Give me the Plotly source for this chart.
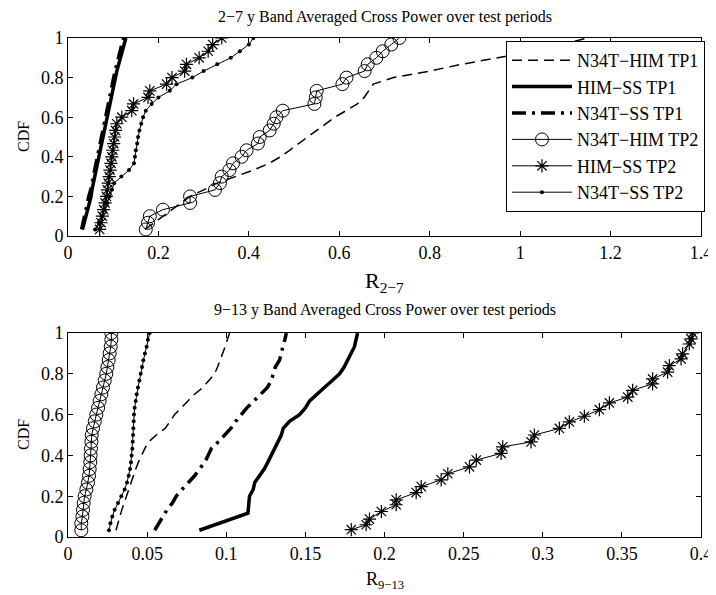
import plotly.graph_objects as go

# ---------------- data ----------------
LEVELS = [0.033, 0.067, 0.1, 0.133, 0.167, 0.2, 0.233, 0.267, 0.3, 0.333,
          0.367, 0.4, 0.433, 0.467, 0.5, 0.533, 0.567, 0.6, 0.633, 0.667,
          0.7, 0.733, 0.767, 0.8, 0.833, 0.867, 0.9, 0.933, 0.967, 1.0]

# Top panel: 2-7 y band
top_n34t_him_tp1 = [0.17, 0.19, 0.21, 0.23, 0.25, 0.27, 0.30, 0.33, 0.37, 0.41,
                    0.445, 0.47, 0.49, 0.51, 0.53, 0.55, 0.57, 0.59, 0.615, 0.64,
                    0.655, 0.665, 0.675, 0.72, 0.80, 0.87, 0.95, 1.03, 1.09, 1.15]
top_him_ss_tp1 = [0.032, 0.036, 0.040, 0.044, 0.047, 0.051, 0.053, 0.056, 0.060, 0.062,
                  0.065, 0.069, 0.071, 0.074, 0.077, 0.081, 0.083, 0.086, 0.090, 0.092,
                  0.095, 0.098, 0.101, 0.105, 0.108, 0.112, 0.116, 0.119, 0.124, 0.128]
top_n34t_ss_tp1 = [0.030, 0.033, 0.036, 0.040, 0.043, 0.046, 0.050, 0.053, 0.056, 0.059,
                   0.062, 0.065, 0.068, 0.071, 0.074, 0.077, 0.080, 0.083, 0.086, 0.089,
                   0.092, 0.095, 0.098, 0.101, 0.104, 0.108, 0.111, 0.115, 0.119, 0.123]
top_n34t_him_tp2 = [0.172, 0.177, 0.181, 0.21, 0.27, 0.27, 0.325, 0.336, 0.34, 0.357,
                    0.365, 0.384, 0.395, 0.42, 0.424, 0.446, 0.455, 0.461, 0.475, 0.545,
                    0.548, 0.55, 0.607, 0.616, 0.656, 0.663, 0.682, 0.696, 0.715, 0.733]
top_him_ss_tp2 = [0.070, 0.073, 0.076, 0.079, 0.082, 0.085, 0.087, 0.089, 0.091, 0.093,
                  0.095, 0.097, 0.099, 0.101, 0.103, 0.105, 0.108, 0.119, 0.141, 0.145,
                  0.177, 0.181, 0.218, 0.23, 0.258, 0.262, 0.29, 0.31, 0.32, 0.34]
top_n34t_ss_tp2 = [0.060, 0.068, 0.075, 0.081, 0.087, 0.092, 0.097, 0.102, 0.118, 0.135,
                   0.146, 0.148, 0.150, 0.153, 0.155, 0.158, 0.162, 0.166, 0.172, 0.185,
                   0.20, 0.225, 0.24, 0.275, 0.30, 0.33, 0.36, 0.38, 0.40, 0.41]

# Bottom panel: 9-13 y band
bot_n34t_him_tp1 = [0.0303, 0.0315, 0.0326, 0.0340, 0.0355, 0.0369, 0.0383, 0.0397, 0.0411, 0.0428,
                    0.0445, 0.0463, 0.0485, 0.0510, 0.0558, 0.0615, 0.0645, 0.0674, 0.0715, 0.0760,
                    0.0800, 0.0852, 0.0890, 0.0926, 0.0945, 0.0962, 0.0979, 0.0993, 0.1007, 0.1021]
bot_him_ss_tp1_x = [0.083, 0.1137, 0.1147, 0.117, 0.118, 0.121, 0.124, 0.1263, 0.1285, 0.1305,
                    0.133, 0.1348, 0.136, 0.140, 0.1463, 0.150, 0.1527, 0.157, 0.162, 0.167,
                    0.1716, 0.1745, 0.1768, 0.179, 0.181, 0.182, 0.183]
bot_him_ss_tp1_y = [0.033, 0.117, 0.2, 0.233, 0.267, 0.3, 0.333, 0.367, 0.4, 0.433,
                    0.467, 0.5, 0.533, 0.567, 0.6, 0.633, 0.667, 0.7, 0.733, 0.767,
                    0.8, 0.833, 0.867, 0.9, 0.933, 0.967, 1.0]
bot_n34t_ss_tp1 = [0.0548, 0.0575, 0.060, 0.0625, 0.066, 0.0684, 0.072, 0.076, 0.080, 0.083,
                   0.0865, 0.0885, 0.0905, 0.095, 0.099, 0.103, 0.106, 0.1095, 0.113, 0.1175,
                   0.122, 0.126, 0.1285, 0.1295, 0.131, 0.1337, 0.1345, 0.1358, 0.137, 0.138]
bot_n34t_him_tp2 = [0.0084, 0.0084, 0.0091, 0.0095, 0.0099, 0.0105, 0.0116, 0.0126, 0.0133, 0.0137,
                    0.0141, 0.0143, 0.0145, 0.0148, 0.0150, 0.0158, 0.0169, 0.0179, 0.0190, 0.0200,
                    0.0211, 0.0221, 0.0232, 0.0242, 0.0249, 0.0257, 0.0263, 0.0270, 0.0274, 0.0274]
bot_him_ss_tp2_x = [0.179, 0.1884, 0.1905, 0.198, 0.2074, 0.2074, 0.22, 0.2232, 0.2358, 0.24,
                    0.2537, 0.258, 0.2737, 0.2747, 0.2926, 0.2947, 0.3105, 0.3168, 0.3263, 0.3358,
                    0.3421, 0.3537, 0.3568, 0.3694, 0.3694, 0.3789, 0.380, 0.3874, 0.3884, 0.3926,
                    0.3937, 0.3947]
bot_him_ss_tp2_y = [0.036, 0.06, 0.088, 0.125, 0.158, 0.182, 0.218, 0.247, 0.28, 0.31,
                    0.344, 0.377, 0.41, 0.442, 0.466, 0.5, 0.532, 0.564, 0.592, 0.624,
                    0.657, 0.686, 0.719, 0.751, 0.775, 0.808, 0.84, 0.873, 0.898, 0.946,
                    0.971, 1.0]
bot_n34t_ss_tp2 = [0.0259, 0.0268, 0.0280, 0.0295, 0.0316, 0.0337, 0.0358, 0.0373, 0.0383, 0.0392,
                   0.0398, 0.0402, 0.0407, 0.0409, 0.0411, 0.0413, 0.0415, 0.0417, 0.0421, 0.0428,
                   0.0434, 0.0442, 0.0451, 0.0459, 0.0468, 0.0476, 0.0486, 0.0497, 0.0505, 0.0516]

NAMES = ["N34T\u2212HIM TP1", "HIM\u2212SS TP1", "N34T\u2212SS TP1",
         "N34T\u2212HIM TP2", "HIM\u2212SS TP2", "N34T\u2212SS TP2"]

TOP_TITLE = "2\u22127 y Band Averaged Cross Power over test periods"
BOT_TITLE = "9\u221213 y Band Averaged Cross Power over test periods"

# ---------------- styles ----------------
STY = [
    dict(mode="lines", line=dict(color="black", width=1.5, dash="10px,6px")),
    dict(mode="lines", line=dict(color="black", width=3.5)),
    dict(mode="lines", line=dict(color="black", width=3.5, dash="14px,6px,3px,6px")),
    dict(mode="lines+markers", line=dict(color="black", width=1),
         marker=dict(symbol="circle-open", size=13, color="black", line=dict(width=1))),
    dict(mode="lines+markers", line=dict(color="black", width=1),
         marker=dict(symbol="asterisk-open", size=11, color="black", line=dict(width=1.2, color="black"))),
    dict(mode="lines+markers", line=dict(color="black", width=1),
         marker=dict(symbol="circle", size=4, color="black")),
]

FONT = "Liberation Serif, Times New Roman, serif"

fig = go.Figure()

top_data = [(top_n34t_him_tp1, LEVELS), (top_him_ss_tp1, LEVELS), (top_n34t_ss_tp1, LEVELS),
            (top_n34t_him_tp2, LEVELS), (top_him_ss_tp2, LEVELS), (top_n34t_ss_tp2, LEVELS)]
bot_data = [(bot_n34t_him_tp1, LEVELS), (bot_him_ss_tp1_x, bot_him_ss_tp1_y), (bot_n34t_ss_tp1, LEVELS),
            (bot_n34t_him_tp2, LEVELS), (bot_him_ss_tp2_x, bot_him_ss_tp2_y), (bot_n34t_ss_tp2, LEVELS)]

for i, (x, y) in enumerate(top_data):
    fig.add_trace(go.Scatter(x=x, y=y, name=NAMES[i], xaxis="x", yaxis="y",
                             showlegend=True, **STY[i]))
for i, (x, y) in enumerate(bot_data):
    fig.add_trace(go.Scatter(x=x, y=y, name=NAMES[i], xaxis="x2", yaxis="y2",
                             showlegend=False, **STY[i]))

axis_common = dict(showline=True, linecolor="black", linewidth=1, mirror="ticks",
                   ticks="inside", ticklen=5, tickcolor="black", showgrid=False,
                   zeroline=False, automargin=False,
                   tickfont=dict(family=FONT, size=18, color="black"))

# page body has an 8px margin -> figure is offset by 8px in the screenshot
W, H = 708, 587
ML, MR, MT, MB = 60, 14, 30, 58
plot_h = H - MT - MB  # 499

top_bottom = (529 - 228) / plot_h      # top panel bottom (screen 236)
bot_top = (529 - 325) / plot_h         # bottom panel top (screen 333)

fig.update_layout(
    width=W, height=H,
    margin=dict(l=ML, r=MR, t=MT, b=MB),
    paper_bgcolor="white", plot_bgcolor="white",
    font=dict(family=FONT, color="black", size=16),
    xaxis=dict(domain=[0, 1], anchor="y", range=[0, 1.4], dtick=0.2, **axis_common),
    yaxis=dict(domain=[top_bottom, 1], anchor="x", range=[0, 1], dtick=0.2, **axis_common),
    xaxis2=dict(domain=[0, 1], anchor="y2", range=[0, 0.4], dtick=0.05, **axis_common),
    yaxis2=dict(domain=[0, bot_top], anchor="x2", range=[0, 1], dtick=0.2, **axis_common),
    legend=dict(x=1.0047, xanchor="right", y=0.994, yanchor="top",
                bordercolor="black", borderwidth=1, bgcolor="white",
                font=dict(family=FONT, size=18, color="black"),
                itemwidth=60, tracegroupgap=0),
    showlegend=True,
    annotations=[
        dict(text=TOP_TITLE, x=0.5, y=1, yshift=21, xref="paper", yref="paper",
             xanchor="center", yanchor="middle",
             showarrow=False, font=dict(family=FONT, size=16)),
        dict(text=BOT_TITLE, x=0.5, y=bot_top, yshift=23, xref="paper", yref="paper",
             xanchor="center", yanchor="middle",
             showarrow=False, font=dict(family=FONT, size=16)),
        dict(text="R<sub>2\u22127</sub>", x=0.5, y=top_bottom, yshift=-46, xref="paper", yref="paper",
             xanchor="center", yanchor="middle",
             showarrow=False, font=dict(family=FONT, size=22)),
        dict(text="R<sub>9\u221213</sub>", x=0.5, y=0, yshift=-43, xref="paper", yref="paper",
             xanchor="center", yanchor="middle",
             showarrow=False, font=dict(family=FONT, size=18)),
        dict(text="CDF", x=0, xshift=-45, y=(1 + top_bottom) / 2, xref="paper", yref="paper",
             xanchor="center", yanchor="middle", textangle=-90,
             showarrow=False, font=dict(family=FONT, size=16)),
        dict(text="CDF", x=0, xshift=-45, y=bot_top / 2, xref="paper", yref="paper",
             xanchor="center", yanchor="middle", textangle=-90,
             showarrow=False, font=dict(family=FONT, size=16)),
    ],
)

fig.write_html("out.html")
